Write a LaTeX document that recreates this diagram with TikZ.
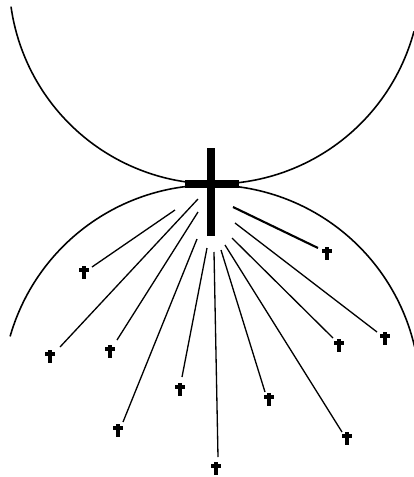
\documentclass[tikz,border=0pt]{standalone}
\usepackage{tikz}
\usetikzlibrary{positioning}

\tikzset{
  smallcross/.pic={
    \draw[line width=1.8pt] (0,-6) -- (0,7);
    \draw[line width=1.8pt] (-5,-2) -- (5,-2);
  }
}

\begin{document}
\begin{tikzpicture}[
  x=0.02cm, y=-0.02cm,
  arcline/.style={line width=0.9pt},
  ray/.style={line width=0.75pt},
  heavyray/.style={line width=1.2pt},
  bigbar/.style={line width=4.6pt}
]
\useasboundingbox (0,0) rectangle (413,477);

% upper and lower arcs
\draw[arcline] plot[domain=188:345, samples=120] ({215+206*cos(\x)}, {-22-206*sin(\x)});
\draw[arcline] plot[domain=13:164, samples=120] ({211+209*cos(\x)}, {394-209*sin(\x)});

% large cross
\coordinate (top) at (211,148);
\coordinate (foot) at (211,236);
\coordinate (armL) at (185,184);
\coordinate (armR) at (239,184);
\draw[bigbar] (top) -- (foot);
\draw[bigbar] (armL) -- (armR);

% rays and small crosses
\foreach \n/\sx/\sy/\ex/\ey/\cx/\cy in {
  1/175/210/92/267/84/272,
  2/198/199/60/347/50/356,
  3/198/212/117/340/110/351,
  4/197/239/123/422/118/430,
  5/207/248/182/377/180/389,
  6/214/252/218/457/216/468,
  7/221/250/265/392/269/399,
  8/225/245/342/432/347/438,
  9/232/238/333/338/339/345,
  10/235/223/377/332/385/338}{
  \coordinate (s\n) at (\sx,\sy);
  \coordinate (e\n) at (\ex,\ey);
  \coordinate (c\n) at (\cx,\cy);
  \draw[ray] (s\n) -- (e\n);
  \pic at (c\n) {smallcross};
}
\coordinate (s11) at (233,207);
\coordinate (e11) at (318,248);
\coordinate (c11) at (327,253);
\draw[heavyray] (s11) -- (e11);
\pic at (c11) {smallcross};
\end{tikzpicture}
\end{document}
